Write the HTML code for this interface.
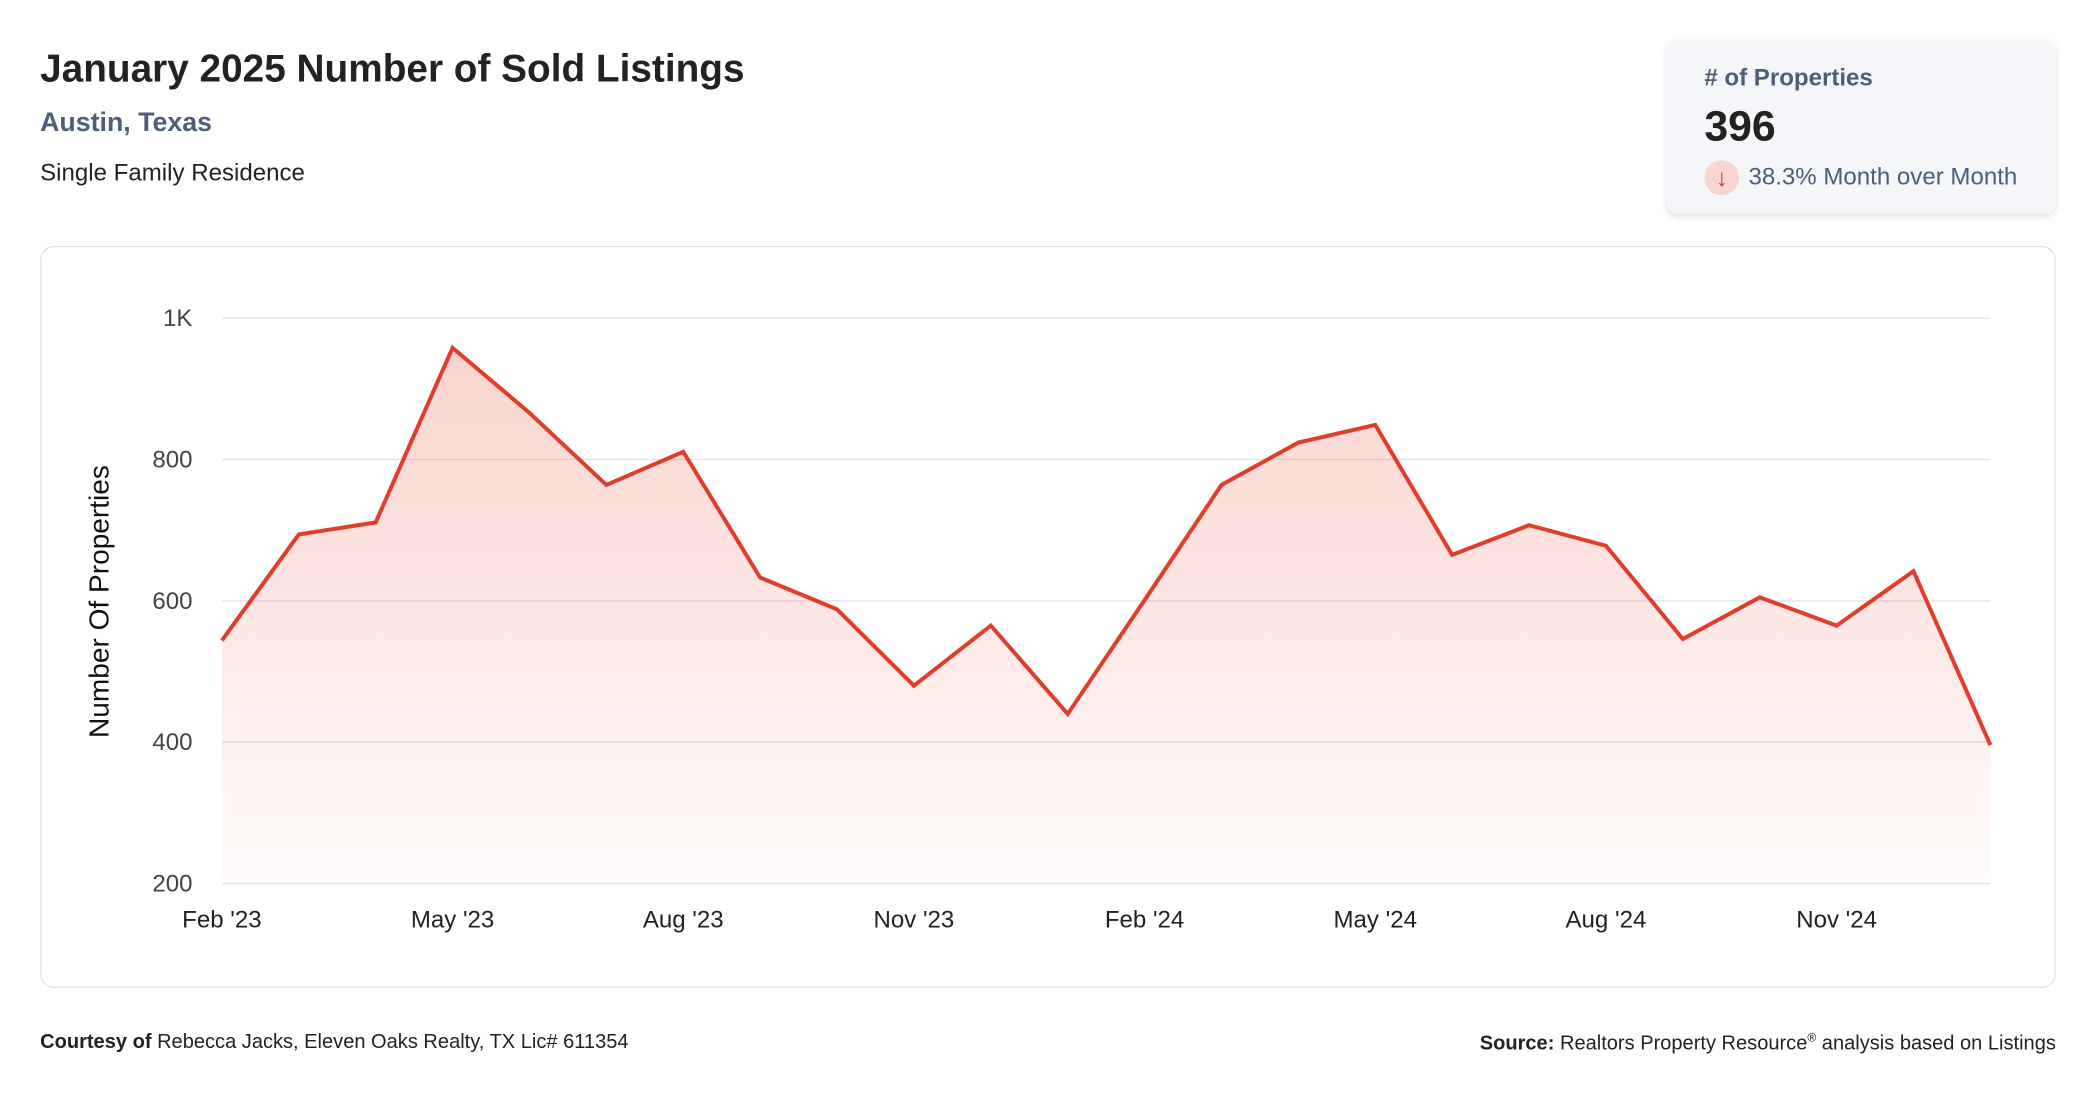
<!DOCTYPE html>
<html><head><meta charset="utf-8">
<style>
html,body{margin:0;padding:0;background:#fff;width:2096px;height:1100px;overflow:hidden;font-family:"Liberation Sans",sans-serif;}
#wrap{position:absolute;left:0;top:0;width:1568px;height:823px;transform:scale(1.33673);transform-origin:0 0;}
.abs{position:absolute;white-space:nowrap;}
</style></head><body>
<div id="wrap">
<div class="abs" style="left:30px;top:36px;font-size:29px;font-weight:bold;color:#222;">January 2025 Number of Sold Listings</div>
<div class="abs" style="left:30px;top:81px;font-size:20px;font-weight:bold;color:#4d5e78;">Austin, Texas</div>
<div class="abs" style="left:30px;top:119px;font-size:18px;color:#222;">Single Family Residence</div>

<div class="abs" style="left:1247px;top:30px;width:291px;height:130px;background:#f5f6fa;border-radius:8px;box-shadow:0 2px 5px rgba(0,0,0,0.12);">
 <div class="abs" style="left:28px;top:18px;font-size:18px;font-weight:bold;color:#4d5e78;"># of Properties</div>
 <div class="abs" style="left:28px;top:46px;font-size:32px;font-weight:bold;color:#222;">396</div>
 <div class="abs" style="left:28px;top:90px;width:26px;height:26px;border-radius:13px;background:#f6d5d0;color:#c63a25;font-size:18px;text-align:center;line-height:26px;">↓</div>
 <div class="abs" style="left:61px;top:92px;font-size:18px;color:#4d5e78;">38.3% Month over Month</div>
</div>

<div class="abs" style="left:30px;top:184px;width:1506px;height:553px;border:1.5px solid #dde2ee;border-radius:10px;"></div>
<svg class="abs" id="chart" style="left:0;top:0;" width="1568" height="823"></svg>

<div class="abs" style="left:30px;top:771px;font-size:15px;color:#222;"><b>Courtesy of</b> Rebecca Jacks, Eleven Oaks Realty, TX Lic# 611354</div>
<div class="abs" style="right:30px;top:771px;font-size:15px;color:#222;"><b>Source:</b> Realtors Property Resource<sup style="font-size:9px">®</sup> analysis based on Listings</div>
</div>
<script>
const months = ["Feb '23","Mar '23","Apr '23","May '23","Jun '23","Jul '23","Aug '23","Sep '23","Oct '23","Nov '23","Dec '23","Jan '24","Feb '24","Mar '24","Apr '24","May '24","Jun '24","Jul '24","Aug '24","Sep '24","Oct '24","Nov '24","Dec '24","Jan '25"];
const values = [544,694,711,958,866,764,811,633,588,480,565,440,601,764,824,849,665,707,678,546,605,565,642,396];
const yTicks = [200,400,600,800,1000];
const yTickLabels = ["200","400","600","800","1K"];
const xLabelIdx = [0,3,6,9,12,15,18,21];

const NS="http://www.w3.org/2000/svg";
const svg=document.getElementById('chart');
const x0=166,x1=1489,yTop=238,yBot=661,vMin=200,vMax=1000;
const xs=i=>x0+(x1-x0)*i/(months.length-1);
const ys=v=>yBot-(v-vMin)/(vMax-vMin)*(yBot-yTop);
function mk(t,a){const e=document.createElementNS(NS,t);for(const k in a)e.setAttribute(k,a[k]);svg.appendChild(e);return e;}

const defs=mk('defs',{});
defs.innerHTML='<linearGradient id="fillg" x1="0" y1="0" x2="0" y2="1"><stop offset="0" stop-color="#e8523d" stop-opacity="0.25"/><stop offset="1" stop-color="#e8523d" stop-opacity="0.02"/></linearGradient>';

yTicks.forEach((t,i)=>{
  const g=mk('line',{x1:x0,x2:x1,y1:ys(t),y2:ys(t),stroke:'#dfe1e6','stroke-width':1});
  
  
  const l=mk('text',{x:144,y:ys(t)+6,'text-anchor':'end','font-size':18,fill:'#444','font-family':'Liberation Sans, sans-serif'});
  l.textContent=yTickLabels[i];
  
  
});
xLabelIdx.forEach(i=>{
  const l=mk('text',{x:xs(i),y:694,'text-anchor':'middle','font-size':18,fill:'#222','font-family':'Liberation Sans, sans-serif'});
  l.textContent=months[i];
  
  
});
const yt=mk('text',{x:0,y:0,transform:'translate(81,450) rotate(-90)','text-anchor':'middle','font-size':21,fill:'#111','font-family':'Liberation Sans, sans-serif'});
yt.textContent='Number Of Properties';



let d='';values.forEach((v,i)=>{d+=(i?'L':'M')+xs(i)+','+ys(v);});
const area=mk('path',{d:d+'L'+xs(values.length-1)+','+yBot+'L'+x0+','+yBot+'Z',fill:'url(#fillg)'});


const line=mk('path',{d:d,fill:'none',stroke:'#e03e2a','stroke-width':3,'stroke-linejoin':'miter'});


</script>
</body></html>
